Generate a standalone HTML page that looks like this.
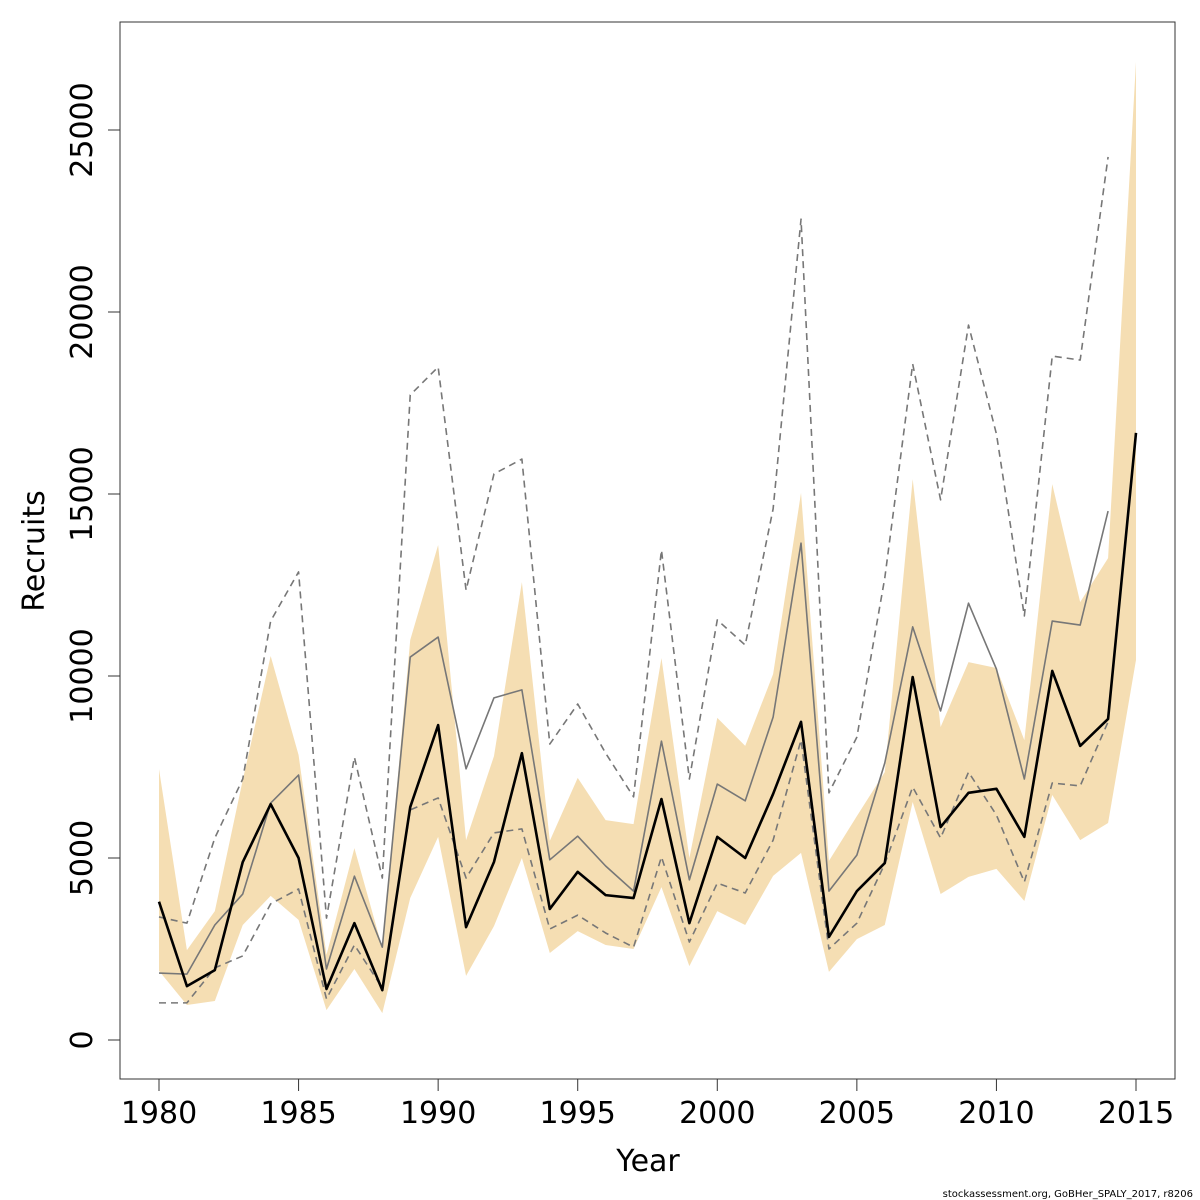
<!DOCTYPE html>
<html><head><meta charset="utf-8"><style>
html,body{margin:0;padding:0;background:#fff;}
svg{display:block;font-family:"DejaVu Sans","Liberation Sans",sans-serif;}
</style></head><body>
<svg id="chart" width="1200" height="1200" viewBox="0 0 1200 1200">
<rect x="0" y="0" width="1200" height="1200" fill="#fff"/>
<g id="band"></g>
<g id="lines"></g>
<rect x="120" y="22" width="1055" height="1057" fill="none" stroke="#333" stroke-width="1"/>
<g id="axes"></g>
<text x="648" y="1171" font-size="30" text-anchor="middle">Year</text>
<text transform="translate(44,551) rotate(-90)" font-size="30" text-anchor="middle">Recruits</text>
<text x="1193" y="1197" font-size="10" text-anchor="end">stockassessment.org, GoBHer_SPALY_2017, r8206</text>
</svg>
<script>
const years = [1980,1981,1982,1983,1984,1985,1986,1987,1988,1989,1990,1991,1992,1993,1994,1995,1996,1997,1998,1999,2000,2001,2002,2003,2004,2005,2006,2007,2008,2009,2010,2011,2012,2013,2014,2015];
const median = [3800,1480,1920,4890,6480,5000,1400,3210,1370,6400,8650,3100,4890,7880,3600,4620,3980,3900,6620,3210,5580,5000,6760,8740,2830,4090,4860,9970,5850,6790,6900,5580,10140,8080,8820,16680];
const bandHigh = [7440,2470,3540,7140,10550,7830,2340,5270,2530,10990,13600,5490,7800,12580,5470,7200,6040,5930,10490,5000,8850,8080,10050,15030,4920,6150,7360,15410,8600,10380,10220,8240,15270,12030,13240,26870];
const bandLow = [1900,960,1070,3160,3960,3300,820,1950,740,3900,5580,1760,3130,5000,2390,2990,2610,2500,4200,2030,3540,3160,4510,5140,1870,2770,3160,6540,4010,4480,4700,3820,6730,5490,5960,10440];
const prevYears = years.slice(0,35);
const prevMedian = [1840,1810,3160,4010,6510,7280,1950,4500,2550,10520,11070,7450,9400,9620,4950,5600,4780,4090,8210,4400,7030,6570,8870,13650,4090,5080,7610,11350,9040,12000,10190,7170,11510,11400,14530];
const prevHigh = [3380,3210,5550,7170,11510,12860,3350,7770,4450,17720,18490,12360,15550,15960,8130,9230,7880,6680,13460,7170,11540,10850,14590,22550,6790,8320,12690,18570,14840,19640,16650,11650,18790,18680,24260];
const prevLow = [1020,1020,1980,2310,3740,4150,1130,2610,1430,6320,6650,4450,5690,5800,3050,3430,2940,2550,5030,2690,4310,4040,5490,8240,2500,3210,4840,6950,5550,7360,6180,4340,7060,6980,8740];
const xTicks = [1980,1985,1990,1995,2000,2005,2010,2015];
const yTicks = [0,5000,10000,15000,20000,25000];

const NS="http://www.w3.org/2000/svg";
const X = v => 159 + (v-1980)*(1136-159)/35;
const Y = v => 1040 - v*(1040-130)/25000;
function mk(tag, attrs, parent){const e=document.createElementNS(NS,tag);for(const k in attrs)e.setAttribute(k,attrs[k]);parent.appendChild(e);return e;}

const band=document.getElementById('band');
let pts=years.map((y,i)=>X(y)+','+Y(bandHigh[i]));
for(let i=years.length-1;i>=0;i--)pts.push(X(years[i])+','+Y(bandLow[i]));
const poly=mk('polygon',{points:pts.join(' '),fill:'#f5deb3',stroke:'none'},band);



const lines=document.getElementById('lines');
function line(xs,vs,stroke,w,dash,name){
  const p=mk('polyline',{points:xs.map((y,i)=>X(y)+','+Y(vs[i])).join(' '),fill:'none',stroke:stroke,'stroke-width':w,'stroke-linejoin':'round'},lines);
  if(dash)p.setAttribute('stroke-dasharray',dash);
  
  
}
line(prevYears,prevHigh,'#777',1.6,'7,5','previous-upper-dashed');
line(prevYears,prevLow,'#777',1.6,'7,5','previous-lower-dashed');
line(prevYears,prevMedian,'#777',1.6,null,'previous-estimate-line');
line(years,median,'#000',2.6,null,'recruits-estimate-line');

const axes=document.getElementById('axes');
mk('line',{x1:X(1980),x2:X(2015),y1:1079,y2:1079,stroke:'#333'},axes);
xTicks.forEach(t=>{
  mk('line',{x1:X(t),x2:X(t),y1:1079,y2:1091,stroke:'#333'},axes);
  const tx=mk('text',{x:X(t),y:1123,'font-size':30,'text-anchor':'middle'},axes);
  tx.textContent=t;
  
  
});
mk('line',{x1:120,x2:120,y1:Y(0),y2:Y(25000),stroke:'#333'},axes);
yTicks.forEach(t=>{
  mk('line',{x1:108,x2:120,y1:Y(t),y2:Y(t),stroke:'#333'},axes);
  const tx=mk('text',{transform:'translate(92,'+Y(t)+') rotate(-90)','font-size':30,'text-anchor':'middle'},axes);
  tx.textContent=t;
  
  
});
</script>
</body></html>
